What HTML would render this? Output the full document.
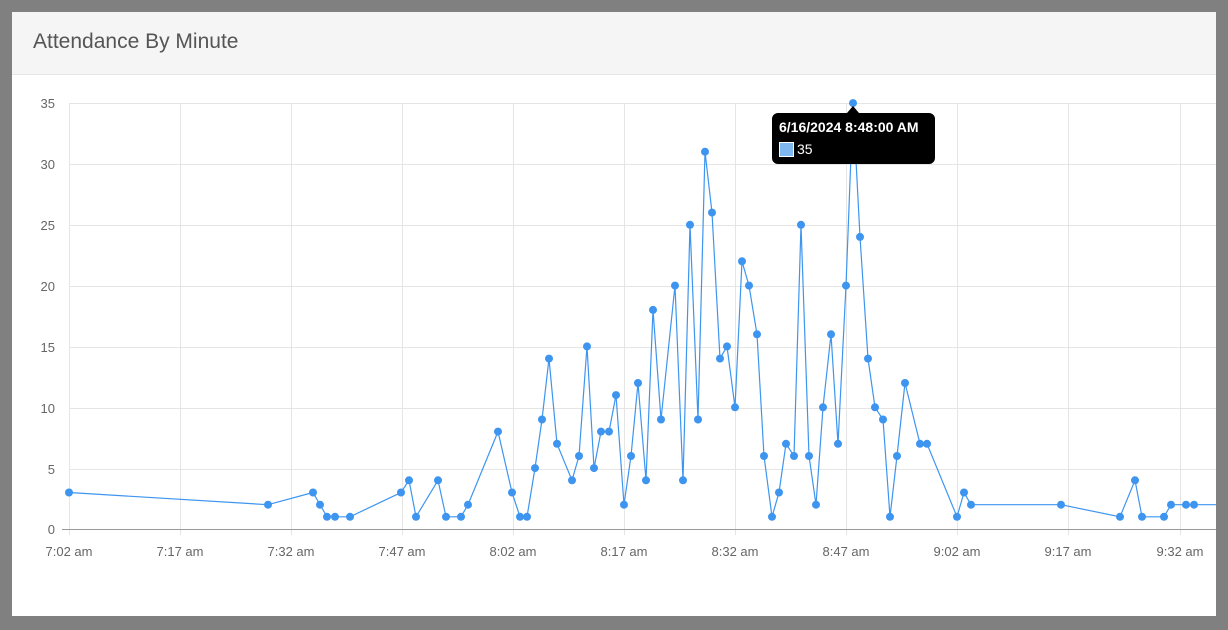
<!DOCTYPE html>
<html><head><meta charset="utf-8"><style>
html,body{margin:0;padding:0;background:#808080;width:1228px;height:630px;overflow:hidden;font-family:"Liberation Sans",sans-serif}
.card{position:absolute;left:12px;top:12px;width:1204px;height:604px;background:#fff}
.hdr{position:absolute;left:0;top:0;width:1204px;height:62px;background:#f5f5f5;border-bottom:1px solid #e6e6e6}
.hdr span{position:absolute;left:21px;top:18px;font-size:21px;color:#555}
svg{position:absolute;left:0;top:0}
</style></head><body>
<div class="card"><div class="hdr"><span>Attendance By Minute</span></div></div>
<svg width="1228" height="630" xmlns="http://www.w3.org/2000/svg" font-family="Liberation Sans, sans-serif">
<g stroke="#e5e5e5" stroke-width="1">
<line x1="69" y1="103.5" x2="1216" y2="103.5"/><line x1="69" y1="164.5" x2="1216" y2="164.5"/><line x1="69" y1="225.5" x2="1216" y2="225.5"/><line x1="69" y1="286.5" x2="1216" y2="286.5"/><line x1="69" y1="347.5" x2="1216" y2="347.5"/><line x1="69" y1="408.5" x2="1216" y2="408.5"/><line x1="69" y1="469.5" x2="1216" y2="469.5"/>
<line x1="69.5" y1="103" x2="69.5" y2="535"/><line x1="180.5" y1="103" x2="180.5" y2="535"/><line x1="291.5" y1="103" x2="291.5" y2="535"/><line x1="402.5" y1="103" x2="402.5" y2="535"/><line x1="513.5" y1="103" x2="513.5" y2="535"/><line x1="624.5" y1="103" x2="624.5" y2="535"/><line x1="735.5" y1="103" x2="735.5" y2="535"/><line x1="846.5" y1="103" x2="846.5" y2="535"/><line x1="957.5" y1="103" x2="957.5" y2="535"/><line x1="1068.5" y1="103" x2="1068.5" y2="535"/><line x1="1180.5" y1="103" x2="1180.5" y2="535"/>
</g>
<line x1="62" y1="529.5" x2="1216" y2="529.5" stroke="#999"/>
<g font-size="13" fill="#666" text-anchor="end">
<text x="55" y="108">35</text><text x="55" y="169">30</text><text x="55" y="230">25</text><text x="55" y="291">20</text><text x="55" y="352">15</text><text x="55" y="413">10</text><text x="55" y="474">5</text><text x="55" y="534">0</text>
</g>
<g font-size="13" fill="#666" text-anchor="middle">
<text x="69" y="556">7:02 am</text><text x="180" y="556">7:17 am</text><text x="291" y="556">7:32 am</text><text x="402" y="556">7:47 am</text><text x="513" y="556">8:02 am</text><text x="624" y="556">8:17 am</text><text x="735" y="556">8:32 am</text><text x="846" y="556">8:47 am</text><text x="957" y="556">9:02 am</text><text x="1068" y="556">9:17 am</text><text x="1180" y="556">9:32 am</text>
</g>
<g id="d"></g>
<g>
<path d="M780 113 H929 a6 6 0 0 1 6 6 V158 a6 6 0 0 1 -6 6 H778 a6 6 0 0 1 -6 -6 V119 a6 6 0 0 1 6 -6 H847 L853 106 L859 113 Z" fill="#000"/>
<text x="779" y="132" fill="#fff" font-size="14" font-weight="bold">6/16/2024 8:48:00 AM</text>
<rect x="779.5" y="142.5" width="14" height="14" fill="#7fb8f0" stroke="#fff"/>
<text x="797" y="154" fill="#fff" font-size="14">35</text>
</g>
</svg>
<script>
var p=[[69,3],[268,2],[313,3],[320,2],[327,1],[335,1],[350,1],[401,3],[409,4],[416,1],[438,4],[446,1],[461,1],[468,2],[498,8],[512,3],[520,1],[527,1],[535,5],[542,9],[549,14],[557,7],[572,4],[579,6],[587,15],[594,5],[601,8],[609,8],[616,11],[624,2],[631,6],[638,12],[646,4],[653,18],[661,9],[675,20],[683,4],[690,25],[698,9],[705,31],[712,26],[720,14],[727,15],[735,10],[742,22],[749,20],[757,16],[764,6],[772,1],[779,3],[786,7],[794,6],[801,25],[809,6],[816,2],[823,10],[831,16],[838,7],[846,20],[853,35],[860,24],[868,14],[875,10],[883,9],[890,1],[897,6],[905,12],[920,7],[927,7],[957,1],[964,3],[971,2],[1061,2],[1120,1],[1135,4],[1142,1],[1164,1],[1171,2],[1186,2],[1194,2],[1216,2]];
var g=document.getElementById('d'),ns='http://www.w3.org/2000/svg',s='';
p.forEach(function(q,i){s+=(i?'L':'M')+q[0]+' '+(529-q[1]*12.17).toFixed(1)});
var pa=document.createElementNS(ns,'path');pa.setAttribute('d',s);pa.setAttribute('fill','none');pa.setAttribute('stroke','#3d95f0');pa.setAttribute('stroke-width','1.2');g.appendChild(pa);
p.forEach(function(q,i){if(q[0]>1212)return;var c=document.createElementNS(ns,'circle');c.setAttribute('cx',q[0]);c.setAttribute('cy',(529-q[1]*12.17).toFixed(1));c.setAttribute('r','4');c.setAttribute('fill','#3d95f0');g.appendChild(c);});
</script>
</body></html>
